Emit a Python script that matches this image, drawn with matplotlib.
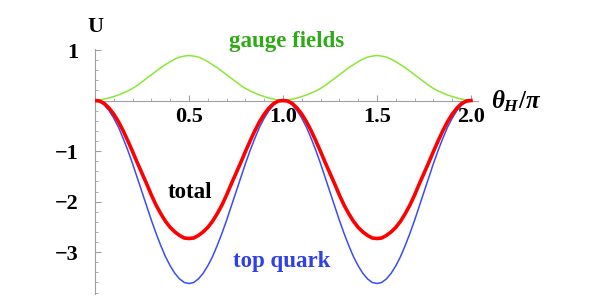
import numpy as np
import matplotlib
matplotlib.use('Agg')
import matplotlib.pyplot as plt
from matplotlib.ticker import FixedLocator, MultipleLocator

plt.rcParams['font.family'] = ['Liberation Serif', 'DejaVu Serif']
plt.rcParams['font.weight'] = 'bold'
plt.rcParams['mathtext.fontset'] = 'custom'
plt.rcParams['mathtext.rm'] = 'Liberation Serif:bold'
plt.rcParams['mathtext.it'] = 'Liberation Serif:italic:bold'
plt.rcParams['mathtext.bf'] = 'Liberation Serif:bold'

# theta_H / pi from 0 to 2, step 0.025
theta = np.linspace(0, 2, 81)

gauge = [0.00, 0.01, 0.03, 0.05, 0.08, 0.11, 0.15, 0.19, 0.24, 0.30,
         0.37, 0.44, 0.51, 0.58, 0.65, 0.71, 0.77, 0.82, 0.86, 0.88,
         0.89, 0.88, 0.86, 0.82, 0.77, 0.71, 0.65, 0.58, 0.51, 0.44,
         0.37, 0.30, 0.24, 0.19, 0.15, 0.11, 0.08, 0.05, 0.03, 0.01,
         0.00, 0.01, 0.03, 0.05, 0.08, 0.11, 0.15, 0.19, 0.24, 0.30,
         0.37, 0.44, 0.51, 0.58, 0.65, 0.71, 0.77, 0.82, 0.86, 0.88,
         0.89, 0.88, 0.86, 0.82, 0.77, 0.71, 0.65, 0.58, 0.51, 0.44,
         0.37, 0.30, 0.24, 0.19, 0.15, 0.11, 0.08, 0.05, 0.03, 0.01,
         0.00]

top_quark = [0.00, -0.02, -0.09, -0.20, -0.35, -0.53, -0.75, -0.99, -1.25, -1.53,
             -1.81, -2.09, -2.37, -2.63, -2.87, -3.09, -3.27, -3.42, -3.53, -3.60,
             -3.62, -3.60, -3.53, -3.42, -3.27, -3.09, -2.87, -2.63, -2.37, -2.09,
             -1.81, -1.53, -1.25, -0.99, -0.75, -0.53, -0.35, -0.20, -0.09, -0.02,
             0.00, -0.02, -0.09, -0.20, -0.35, -0.53, -0.75, -0.99, -1.25, -1.53,
             -1.81, -2.09, -2.37, -2.63, -2.87, -3.09, -3.27, -3.42, -3.53, -3.60,
             -3.62, -3.60, -3.53, -3.42, -3.27, -3.09, -2.87, -2.63, -2.37, -2.09,
             -1.81, -1.53, -1.25, -0.99, -0.75, -0.53, -0.35, -0.20, -0.09, -0.02,
             0.00]

total = [0.00, -0.01, -0.06, -0.15, -0.27, -0.42, -0.60, -0.80, -1.01, -1.23,
         -1.44, -1.65, -1.87, -2.07, -2.24, -2.39, -2.51, -2.60, -2.67, -2.72,
         -2.73, -2.72, -2.67, -2.60, -2.51, -2.39, -2.24, -2.07, -1.87, -1.65,
         -1.44, -1.23, -1.01, -0.80, -0.60, -0.42, -0.27, -0.15, -0.06, -0.01,
         0.00, -0.01, -0.06, -0.15, -0.27, -0.42, -0.60, -0.80, -1.01, -1.23,
         -1.44, -1.65, -1.87, -2.07, -2.24, -2.39, -2.51, -2.60, -2.67, -2.72,
         -2.73, -2.72, -2.67, -2.60, -2.51, -2.39, -2.24, -2.07, -1.87, -1.65,
         -1.44, -1.23, -1.01, -0.80, -0.60, -0.42, -0.27, -0.15, -0.06, -0.01,
         0.00]

x_ticks = [0.5, 1.0, 1.5, 2.0]
x_labels = ['0.5', '1.0', '1.5', '2.0']
y_ticks = [-3, -2, -1, 1]
y_labels = ['\u22123', '\u22122', '\u22121', '1']

fig = plt.figure(figsize=(5.99, 3.0), dpi=100)
ax = fig.add_axes([95 / 599, 6.4 / 300, (478.5 - 95) / 599, (251 - 6.4) / 300])

ax.plot(theta, gauge, color='#8ae834', lw=1.1, zorder=3)
ax.plot(theta, top_quark, color='#3a4cf5', lw=1.1, zorder=4)
ax.plot(theta, total, color='#ff0000', lw=2.6, zorder=5)

ax.set_xlim(0, 2.04)
ax.set_ylim(-3.82, 1.02)

for s in ['top', 'right']:
    ax.spines[s].set_visible(False)
ax.spines['bottom'].set_position(('data', 0))
ax.spines['left'].set_position(('data', 0))
for s in ['bottom', 'left']:
    ax.spines[s].set_color('#a0a0a0')
    ax.spines[s].set_linewidth(0.8)

ax.xaxis.set_major_locator(FixedLocator(x_ticks))
ax.set_xticklabels(x_labels)
ax.xaxis.set_minor_locator(MultipleLocator(0.1))
ax.yaxis.set_major_locator(FixedLocator(y_ticks))
ax.set_yticklabels(y_labels)
ax.yaxis.set_minor_locator(MultipleLocator(0.2))

ax.tick_params(which='major', direction='in', length=4, width=0.8, color='#a0a0a0',
               labelsize=16, pad=5)
ax.tick_params(which='minor', direction='in', length=2.5, width=0.6, color='#a0a0a0')
ax.tick_params(axis='y', which='major', pad=12)
for lab in ax.get_xticklabels() + ax.get_yticklabels():
    lab.set_fontweight('bold')

ax.text(95 / 599, 1 - 27 / 300, 'U', transform=fig.transFigure, fontsize=16,
        fontweight='bold', ha='center', va='center')
ax.text(491 / 599, 1 - 101 / 300, r'$\theta_H/\pi$', transform=fig.transFigure,
        fontsize=18, ha='left', va='center')
ax.text(287 / 599, 1 - 41 / 300, 'gauge fields', transform=fig.transFigure,
        fontsize=16.5, fontweight='bold', color='#2eaa16', ha='center', va='center')
ax.text(190 / 599, 1 - 193 / 300, 'total', transform=fig.transFigure,
        fontsize=16.5, fontweight='bold', color='black', ha='center', va='center')
ax.text(282 / 599, 1 - 262 / 300, 'top quark', transform=fig.transFigure,
        fontsize=16.5, fontweight='bold', color='#3040e8', ha='center', va='center')

fig.savefig('out.png', dpi=100)
